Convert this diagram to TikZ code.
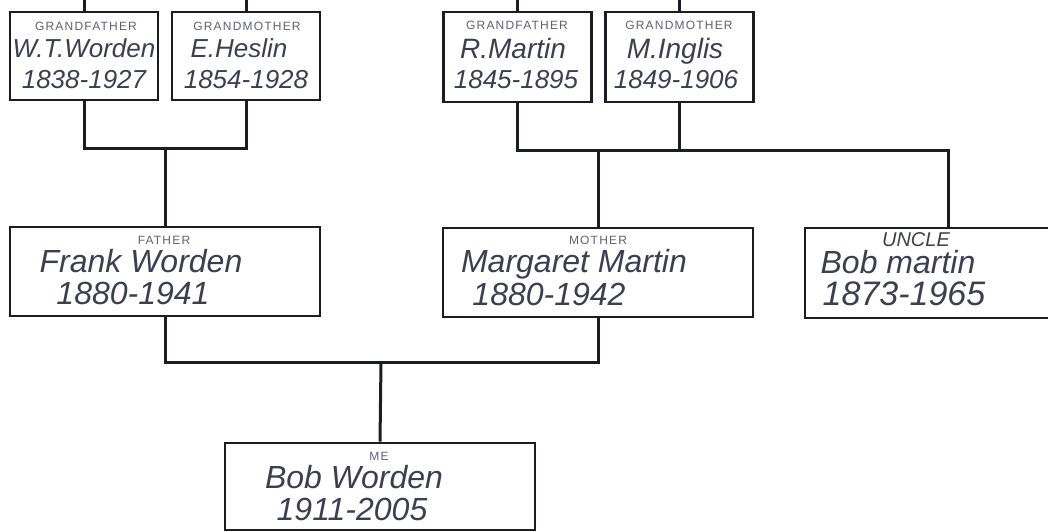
\documentclass[tikz,border=0pt]{standalone}
\usepackage{fontspec}
\setmainfont{Liberation Sans}
\newfontfamily\rolefont[LetterSpace=10]{Liberation Sans}
\usetikzlibrary{positioning}
\definecolor{inkline}{RGB}{28,28,36}
\definecolor{inkhand}{RGB}{62,62,82}
\definecolor{inkrole}{RGB}{95,95,118}

\begin{document}
\begin{tikzpicture}[x=0.5pt,y=-0.5pt, every node/.style={inner sep=0pt},
  smallbox/.style={draw=inkline,line width=1.3pt,minimum width=74pt,minimum height=44pt},
  widebox/.style={smallbox,minimum width=155pt},
  role/.style={font=\rolefont\fontsize{6}{6}\selectfont,text=inkrole},
  hand/.style={font=\itshape\fontsize{13}{13}\selectfont,text=inkhand,text height=0.75em,text depth=0.15em},
  bighand/.style={hand,font=\itshape\fontsize{16}{16}\selectfont},
  link/.style={draw=inkline,line width=1.5pt}]
\clip (0,0) rectangle (1048,531);
% grandparents
\node[smallbox] (gf1) at (84,56) {};
\node[smallbox] (gm1) at (246,56) {};
\node[smallbox,minimum height=45pt] (gf2) at (517.5,57) {};
\node[smallbox,minimum height=45pt] (gm2) at (679.5,57) {};
\node[role] (gf1r) at (86,26) {GRANDFATHER};
\node[hand] (gf1n) at (84,51) {W.T.Worden};
\node[hand] (gf1y) at (84,82) {1838-1927};
\node[role] (gm1r) at (247,26) {GRANDMOTHER};
\node[hand] (gm1n) at (239,51) {E.Heslin};
\node[hand] (gm1y) at (246,82) {1854-1928};
\node[role] (gf2r) at (517,25) {GRANDFATHER};
\node[hand,font=\itshape\fontsize{14}{14}\selectfont] (gf2n) at (513,52) {R.Martin};
\node[hand] (gf2y) at (516,82) {1845-1895};
\node[role] (gm2r) at (679,25) {GRANDMOTHER};
\node[hand,font=\itshape\fontsize{14}{14}\selectfont] (gm2n) at (675,52) {M.Inglis};
\node[hand] (gm2y) at (676,82) {1849-1906};
% parents and uncle
\node[widebox,minimum height=44.5pt] (fa) at (165,271.5) {};
\node[widebox,minimum height=44.5pt] (mo) at (598,272.5) {};
\node[widebox,minimum width=143pt,minimum height=45pt] (un) at (948,273) {};
\node[role] (far) at (164,240) {FATHER};
\node[bighand] (fan) at (141,266) {Frank Worden};
\node[bighand] (fay) at (133,298) {1880-1941};
\node[role] (mor) at (598,240) {MOTHER};
\node[bighand] (mon) at (574,266) {Margaret Martin};
\node[bighand] (moy) at (549,299) {1880-1942};
\node[hand,font=\itshape\fontsize{10}{10}\selectfont] (unr) at (916,240) {UNCLE};
\node[bighand] (unn) at (898,267) {Bob martin};
\node[bighand,font=\itshape\fontsize{17}{17}\selectfont] (uny) at (904,299) {1873-1965};
% me
\node[widebox,minimum height=43.5pt] (me) at (380,486.5) {};
\node[role] (mer) at (379,456) {ME};
\node[bighand] (men) at (354,482) {Bob Worden};
\node[bighand] (mey) at (352,514) {1911-2005};
% connectors
\coordinate (t1) at (84,0);
\coordinate (t2) at (246,0);
\coordinate (t3) at (517.5,0);
\coordinate (t4) at (679.5,0);
\coordinate (j1) at (165,148);
\coordinate (j2) at (598,150);
\coordinate (j3) at (381,362);
\draw[link] (gf1.north)--(t1);\draw[link] (gm1.north)--(t2);\draw[link] (gf2.north)--(t3);\draw[link] (gm2.north)--(t4);
\draw[link] (gf1.south) |- (j1) -| (gm1.south);\draw[link] (j1)--(fa.north);
\draw[link] (gf2.south) |- (j2) -| (gm2.south);\draw[link] (j2)--(mo.north);\draw[link] (j2) -| (un.north);
\draw[link] (fa.south) |- (j3) -| (mo.south);\draw[link] (j3)--(me.north);
\end{tikzpicture}
\end{document}
